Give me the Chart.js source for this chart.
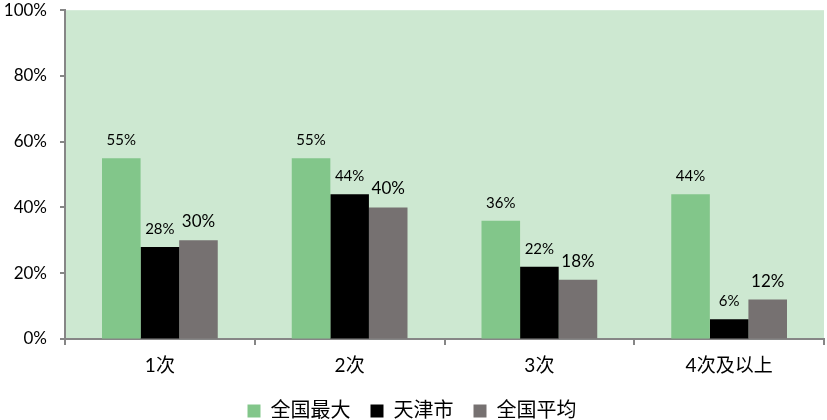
<!DOCTYPE html>
<html>
<head>
<meta charset="utf-8">
<script src="https://cdn.jsdelivr.net/npm/chart.js@4/dist/chart.umd.min.js"></script>
<style>
  html, body { margin: 0; padding: 0; background: #fff; }
  #wrap { width: 827px; height: 420px; }
</style>
</head>
<body>
<div id="wrap"><canvas id="chart"></canvas></div>
<script>
const categories = ['1次', '2次', '3次', '4次及以上'];
const seriesNames = ['全国最大', '天津市', '全国平均'];
const maxValues = [55, 55, 36, 44];
const tianjinValues = [28, 44, 22, 6];
const avgValues = [30, 40, 18, 12];
const yTicks = [0, 20, 40, 60, 80, 100];

const FONT = "Lato, 'Noto Sans CJK SC', sans-serif";
const AXIS = '#868686';

// fond vert de la zone de tracé
const plotBg = {
  id: 'plotBg',
  beforeDraw(chart) {
    const { ctx, chartArea: a } = chart;
    ctx.save();
    ctx.fillStyle = '#cde8d1';
    ctx.fillRect(a.left, a.top, a.right - a.left, a.bottom - a.top);
    ctx.restore();
  }
};

// petites graduations de l'axe Y (la longueur réelle du tick sert d'espacement pour les libellés)
const yTickMarks = {
  id: 'yTickMarks',
  afterDraw(chart) {
    const { ctx, scales: { y } } = chart;
    ctx.save();
    ctx.strokeStyle = AXIS;
    ctx.lineWidth = 2;
    ctx.beginPath();
    yTicks.forEach(v => {
      const py = Math.round(y.getPixelForValue(v));
      ctx.moveTo(y.right - 5, py);
      ctx.lineTo(y.right, py);
    });
    ctx.stroke();
    ctx.restore();
  }
};

// étiquettes de valeur au-dessus des barres
const labelSizes = [15, 15, 17];
const barLabels = {
  id: 'barLabels',
  afterDatasetsDraw(chart) {
    const ctx = chart.ctx;
    ctx.save();
    ctx.fillStyle = '#000';
    ctx.textAlign = 'center';
    ctx.textBaseline = 'alphabetic';
    chart.data.datasets.forEach((ds, i) => {
      ctx.font = labelSizes[i] + 'px ' + FONT;
      chart.getDatasetMeta(i).data.forEach((bar, j) => {
        ctx.fillText(ds.data[j] + '%', bar.x, bar.y - 13);
      });
    });
    ctx.restore();
  }
};

new Chart(document.getElementById('chart'), {
  type: 'bar',
  data: {
    labels: categories,
    datasets: [
      { label: seriesNames[0], data: maxValues, backgroundColor: '#82c68a' },
      { label: seriesNames[1], data: tianjinValues, backgroundColor: '#000000' },
      { label: seriesNames[2], data: avgValues, backgroundColor: '#767171' }
    ]
  },
  options: {
    responsive: true,
    maintainAspectRatio: false,
    animation: false,
    categoryPercentage: 0.61,
    barPercentage: 1.0,
    layout: { padding: { top: 10, right: 3, bottom: -11 } },
    plugins: {
      tooltip: { enabled: false },
      legend: {
        position: 'bottom',
        labels: {
          boxWidth: 13,
          boxHeight: 13,
          padding: 20,
          color: '#000',
          font: { family: FONT, size: 20 }
        }
      }
    },
    scales: {
      x: {
        afterFit(scale) { scale.height = 42; },
        border: { color: AXIS, width: 2 },
        grid: { drawOnChartArea: false, offset: true, tickLength: 6, color: AXIS, lineWidth: 2 },
        ticks: { color: '#000', padding: 9, font: { family: FONT, size: 19 } }
      },
      y: {
        min: 0,
        max: 100,
        afterFit(scale) { scale.width = 65; },
        afterBuildTicks(scale) { scale.ticks = yTicks.map(v => ({ value: v })); },
        border: { color: AXIS, width: 2 },
        grid: { drawOnChartArea: false, tickLength: 18, tickColor: 'rgba(0,0,0,0)' },
        ticks: {
          color: '#000',
          padding: 0,
          font: { family: FONT, size: 17 },
          callback: v => v + '%'
        }
      }
    }
  },
  plugins: [plotBg, yTickMarks, barLabels]
});
</script>
</body>
</html>
